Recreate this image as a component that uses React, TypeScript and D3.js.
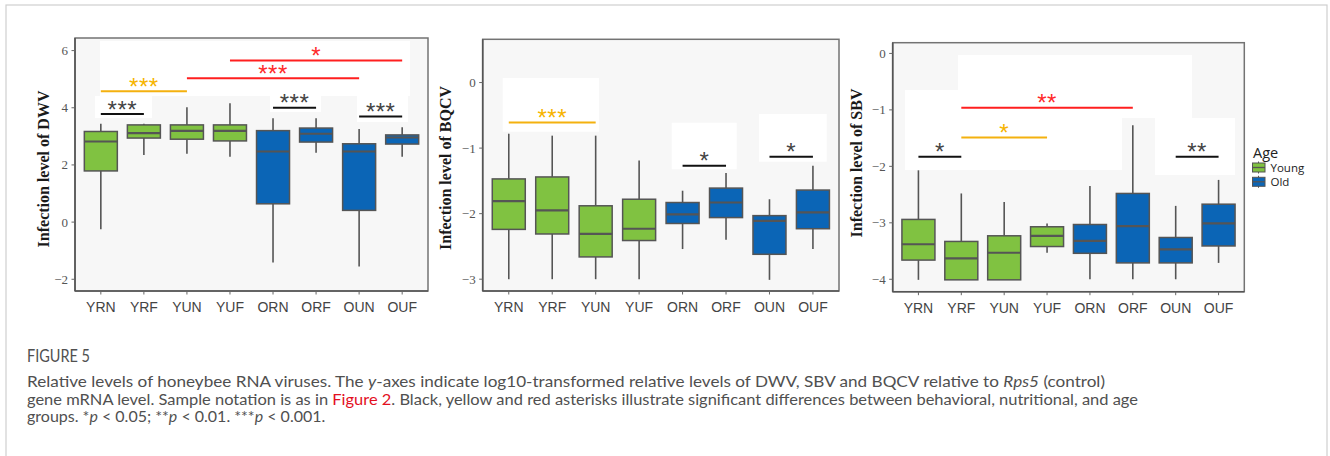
import React from "react";
import * as d3 from "d3";

// ---------- DATA ----------
const categories = ["YRN", "YRF", "YUN", "YUF", "ORN", "ORF", "OUN", "OUF"];
const ageGroups = ["Young", "Young", "Young", "Young", "Old", "Old", "Old", "Old"];

// [whiskerLow, q1, median, q3, whiskerHigh]
const dwvStats = [
  [-0.25, 1.79, 2.82, 3.17, 3.44],
  [2.35, 2.94, 3.11, 3.4, 3.44],
  [2.39, 2.9, 3.19, 3.4, 4.02],
  [2.29, 2.84, 3.19, 3.4, 4.16],
  [-1.41, 0.64, 2.47, 3.2, 3.63],
  [2.43, 2.8, 3.09, 3.29, 3.63],
  [-1.55, 0.41, 2.47, 2.74, 3.26],
  [2.29, 2.73, 2.96, 3.05, 3.32],
];
const bqcvStats = [
  [-3.0, -2.24, -1.81, -1.47, -0.78],
  [-3.0, -2.31, -1.95, -1.44, -0.81],
  [-3.0, -2.66, -2.31, -1.88, -0.81],
  [-3.0, -2.41, -2.23, -1.78, -1.19],
  [-2.54, -2.15, -2.01, -1.83, -1.65],
  [-2.4, -2.06, -1.83, -1.61, -1.38],
  [-3.01, -2.62, -2.11, -2.03, -1.78],
  [-2.54, -2.23, -1.98, -1.64, -1.27],
];
const sbvStats = [
  [-4.01, -3.66, -3.38, -2.94, -2.07],
  [-4.01, -4.01, -3.63, -3.33, -2.48],
  [-4.01, -4.01, -3.53, -3.23, -2.63],
  [-3.53, -3.42, -3.23, -3.07, -3.01],
  [-4.0, -3.54, -3.32, -3.03, -2.35],
  [-4.0, -3.71, -3.06, -2.48, -1.27],
  [-4.0, -3.71, -3.47, -3.26, -2.7],
  [-3.71, -3.41, -3.01, -2.67, -2.24],
];

const dwvTicks = [-2, 0, 2, 4, 6];
const bqcvTicks = [-3, -2, -1, 0];
const sbvTicks = [-4, -3, -2, -1, 0];

// significance: [from, to, y value, label, kind]
const dwvSig = [
  ["YRN", "YRF", 3.78, "***", "behavior"],
  ["YRN", "YUN", 4.58, "***", "nutrition"],
  ["YUN", "OUN", 5.03, "***", "age"],
  ["YUF", "OUF", 5.65, "*", "age"],
  ["ORN", "ORF", 4.0, "***", "behavior"],
  ["OUN", "OUF", 3.69, "***", "behavior"],
];
const bqcvSig = [
  ["YRN", "YUN", -0.61, "***", "nutrition"],
  ["ORN", "ORF", -1.27, "*", "behavior"],
  ["OUN", "OUF", -1.13, "*", "behavior"],
];
const sbvSig = [
  ["YRN", "YRF", -1.83, "*", "behavior"],
  ["YRF", "YUF", -1.49, "*", "nutrition"],
  ["YRF", "ORF", -0.96, "**", "age"],
  ["OUN", "OUF", -1.83, "**", "behavior"],
];

const legendTitle = "Age";
const legendItems = ["Young", "Old"];

// ---------- STYLE ----------
const GREEN = "#80c241";
const BLUE = "#0b65b6";
const OUTLINE = "#555555";
const sigLine: Record<string, string> = { behavior: "#111111", nutrition: "#f4b10f", age: "#ff1f1f" };
const sigText: Record<string, string> = { behavior: "#444444", nutrition: "#f6b400", age: "#ff2a2a" };

type Panel = {
  title: string;
  stats: number[][];
  ticks: number[];
  sig: any[];
  left: number; right: number; top: number; bottom: number;
  domain: [number, number];
  titleX: number; titleY: number;
  whites: number[][];
};

const panels: Panel[] = [
  {
    title: "Infection level of DWV", stats: dwvStats, ticks: dwvTicks, sig: dwvSig,
    left: 75, right: 428, top: 38, bottom: 291, domain: [-2.41, 6.44],
    titleX: 43, titleY: 169,
    whites: [[100, 41, 410, 96], [95, 96, 152, 118], [270, 92, 321, 112], [357, 96, 408, 122]],
  },
  {
    title: "Infection level of BQCV", stats: bqcvStats, ticks: bqcvTicks, sig: bqcvSig,
    left: 482.7, right: 839, top: 39.3, bottom: 291, domain: [-3.18, 0.66],
    titleX: 445, titleY: 168,
    whites: [[502.7, 78, 599, 131.7], [671.7, 122.7, 736.7, 169.3], [759, 114, 826.7, 161.7]],
  },
  {
    title: "Infection level of SBV", stats: sbvStats, ticks: sbvTicks, sig: sbvSig,
    left: 892.7, right: 1244.3, top: 42.7, bottom: 291.7, domain: [-4.22, 0.19],
    titleX: 856, titleY: 163,
    whites: [[905, 90, 1122, 170], [958, 55, 1192, 118], [1155, 118, 1235, 175]],
  },
];

const fmt = (v: number) => (v < 0 ? "\u2212" + Math.abs(v) : String(v));

function BoxPanel({ p }: { p: Panel }) {
  const x = d3.scalePoint<string>().domain(categories).range([p.left, p.right]).padding(0.6);
  const y = d3.scaleLinear().domain(p.domain).range([p.bottom, p.top]);
  const bw = 33;
  const color = d3.scaleOrdinal<string, string>().domain(["Young", "Old"]).range([GREEN, BLUE]);
  return (
    <g>
      <rect x={p.left} y={p.top} width={p.right - p.left} height={p.bottom - p.top} fill="#f7f7f7" />
      {p.whites.map((w, i) => (
        <rect key={i} x={w[0]} y={w[1]} width={w[2] - w[0]} height={w[3] - w[1]} fill="#ffffff" />
      ))}
      {/* boxes */}
      {p.stats.map((s, i) => {
        const cx = x(categories[i])!;
        const [lo, q1, med, q3, hi] = s;
        return (
          <g key={i}>
            <line x1={cx} x2={cx} y1={y(hi)} y2={y(q3)} stroke={OUTLINE} strokeWidth={1.6} />
            <line x1={cx} x2={cx} y1={y(q1)} y2={y(lo)} stroke={OUTLINE} strokeWidth={1.6} />
            <rect x={cx - bw / 2} y={y(q3)} width={bw} height={Math.max(0, y(q1) - y(q3))}
              fill={color(ageGroups[i])} stroke={OUTLINE} strokeWidth={1.5} />
            <line x1={cx - bw / 2} x2={cx + bw / 2} y1={y(med)} y2={y(med)} stroke={OUTLINE} strokeWidth={2.2} />
          </g>
        );
      })}
      {/* significance */}
      {p.sig.map((s, i) => {
        const x1 = x(s[0])!;
        const x2 = x(s[1])!;
        const yy = y(s[2]);
        return (
          <g key={"s" + i}>
            <line x1={x1} x2={x2} y1={yy} y2={yy} stroke={sigLine[s[4]]} strokeWidth={2} />
            <text x={(x1 + x2) / 2} y={yy + 3.5} textAnchor="middle" fontFamily="Liberation Sans, Arial, sans-serif"
              fontSize={24} letterSpacing={0.5} fill={sigText[s[4]]}>{s[3]}</text>
          </g>
        );
      })}
      {/* frame */}
      <rect x={p.left} y={p.top} width={p.right - p.left} height={p.bottom - p.top} fill="none" stroke="#737373" strokeWidth={1.5} />
      <line x1={p.left} x2={p.left} y1={p.top} y2={p.bottom} stroke="#555" strokeWidth={1.6} />
      <line x1={p.left} x2={p.right} y1={p.bottom} y2={p.bottom} stroke="#555" strokeWidth={1.6} />
      {/* y ticks */}
      {p.ticks.map((t) => (
        <g key={"t" + t}>
          <line x1={p.left - 3.5} x2={p.left} y1={y(t)} y2={y(t)} stroke="#666" strokeWidth={1} />
          <text x={p.left - 7} y={y(t)} dy="0.35em" textAnchor="end" fontFamily="Liberation Serif, serif"
            fontSize={13} fill="#555">{fmt(t)}</text>
        </g>
      ))}
      {/* x ticks */}
      {categories.map((c) => (
        <g key={"x" + c}>
          <line x1={x(c)} x2={x(c)} y1={p.bottom} y2={p.bottom + 3.5} stroke="#666" strokeWidth={1} />
          <text x={x(c)} y={p.bottom + 21} textAnchor="middle" fontFamily="Liberation Sans, Arial, sans-serif"
            fontSize={14} fill="#444">{c}</text>
        </g>
      ))}
      <text transform={`translate(${p.titleX},${p.titleY}) rotate(-90)`} textAnchor="middle" dy="0.35em"
        fontFamily="Liberation Serif, serif" fontWeight="bold" fontSize={16} fill="#1a1a1a">{p.title}</text>
    </g>
  );
}

function Legend() {
  const color = d3.scaleOrdinal<string, string>().domain(legendItems).range([GREEN, BLUE]);
  return (
    <g>
      <text x={1253} y={153} dy="0.35em" fontFamily="Open Sans, sans-serif" fontSize={14.5} fill="#222">{legendTitle}</text>
      {legendItems.map((it, i) => {
        const cy = 167.5 + i * 14.3;
        return (
          <g key={it}>
            <line x1={1258.5} x2={1258.5} y1={cy - 6} y2={cy + 6} stroke={OUTLINE} strokeWidth={1} />
            <rect x={1252.5} y={cy - 4.5} width={12.5} height={9} fill={color(it)} stroke={OUTLINE} strokeWidth={1} />
            <line x1={1252.5} x2={1265} y1={cy} y2={cy} stroke={OUTLINE} strokeWidth={1.3} />
            <text x={1270.5} y={cy} dy="0.35em" fontFamily="Open Sans, sans-serif" fontSize={11.5} fill="#222">{it}</text>
          </g>
        );
      })}
    </g>
  );
}

function Caption() {
  const ff = "Lato, 'Open Sans', sans-serif";
  const col = "#505050";
  return (
    <g fontFamily={ff} fill={col}>
      <text x={27} y={362} fontSize={17} textLength={63} lengthAdjust="spacingAndGlyphs">FIGURE 5</text>
      <text x={27} y={387} fontSize={16} textLength={1078} lengthAdjust="spacingAndGlyphs">
        Relative levels of honeybee RNA viruses. The <tspan fontStyle="italic">y</tspan>-axes indicate log10-transformed relative levels of DWV, SBV and BQCV relative to <tspan fontStyle="italic">Rps5</tspan> (control)
      </text>
      <text x={27} y={404.5} fontSize={16} textLength={1111} lengthAdjust="spacingAndGlyphs">
        gene mRNA level. Sample notation is as in <tspan fill="#e3101f">Figure 2</tspan>. Black, yellow and red asterisks illustrate significant differences between behavioral, nutritional, and age
      </text>
      <text x={27} y={422} fontSize={16}>
        groups. *<tspan fontStyle="italic">p</tspan> &lt; 0.05; **<tspan fontStyle="italic">p</tspan> &lt; 0.01. ***<tspan fontStyle="italic">p</tspan> &lt; 0.001.
      </text>
    </g>
  );
}

export default function App() {
  return (
    <svg width={1330} height={456} style={{ position: "absolute", left: 0, top: 0, background: "#fff" }}>
      <rect x={0} y={0} width={1330} height={456} fill="#ffffff" />
      <rect x={6} y={5} width={1321} height={470} fill="none" stroke="#cfcfcf" strokeWidth={1.2} />
      {panels.map((p, i) => (
        <BoxPanel key={i} p={p} />
      ))}
      <Legend />
      <Caption />
    </svg>
  );
}
